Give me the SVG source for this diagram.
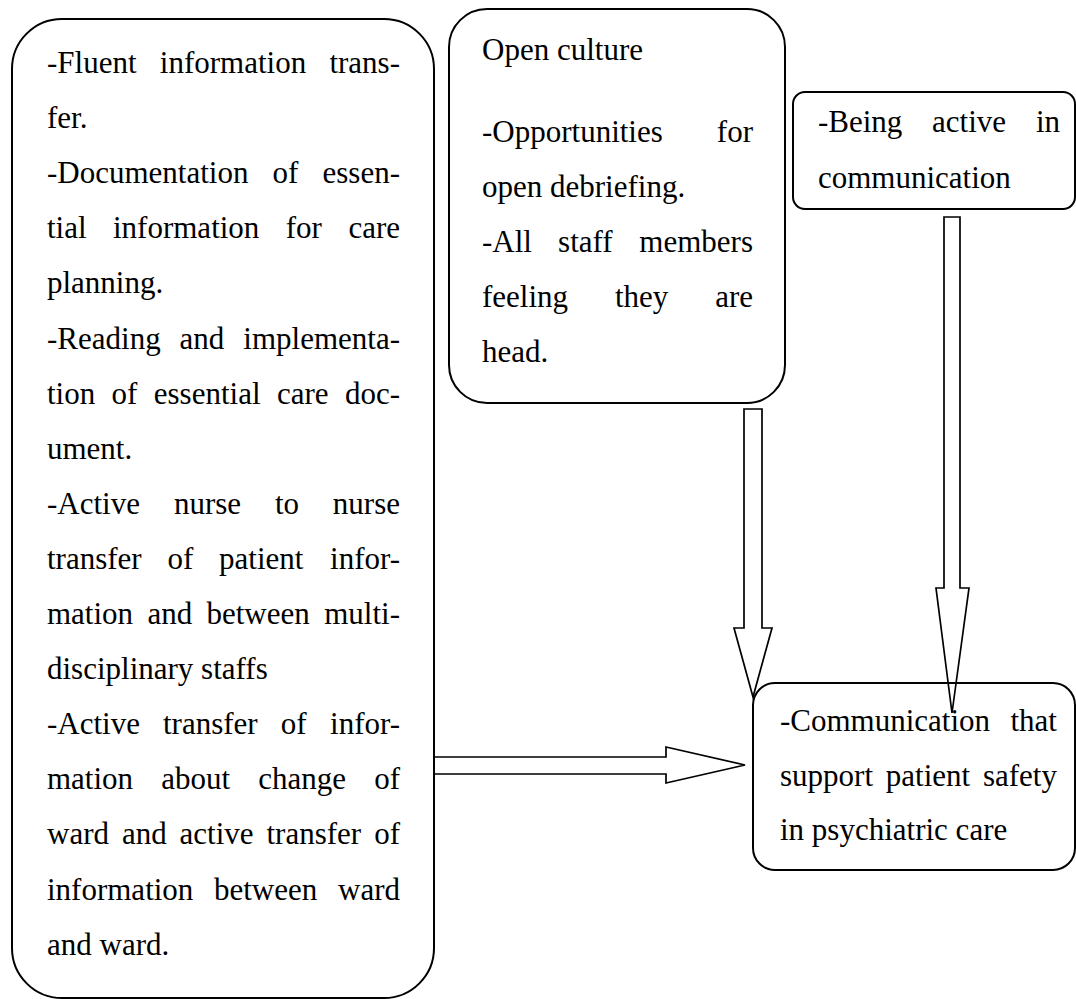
<svg xmlns="http://www.w3.org/2000/svg" width="1076" height="999" viewBox="0 0 1076 999">
<style>
.box{fill:#fff;stroke:#000;stroke-width:2}
.arr{fill:none;stroke:#000;stroke-width:1.7;stroke-linejoin:miter}
text{font-family:"Liberation Serif","Times New Roman",serif;font-size:31px;fill:#000}
.e{text-anchor:end}
</style>
<rect width="1076" height="999" fill="#fff"/>
<g id="node-left">
<rect class="box" x="12" y="19" width="422" height="979" rx="50" ry="50"/>
<text x="47" y="73">-Fluent</text><text x="159.8" y="73">information</text><text class="e" x="400" y="73">trans-</text>
<text x="47" y="128.1">fer.</text>
<text x="47" y="183.2">-Documentation</text><text x="272.6" y="183.2">of</text><text class="e" x="400" y="183.2">essen-</text>
<text x="47" y="238.3">tial</text><text x="113" y="238.3">information</text><text x="285.8" y="238.3">for</text><text class="e" x="400" y="238.3">care</text>
<text x="47" y="293.4">planning.</text>
<text x="47" y="348.5">-Reading</text><text x="179.5" y="348.5">and</text><text class="e" x="400" y="348.5">implementa-</text>
<text x="47" y="403.6">tion</text><text x="111.6" y="403.6">of</text><text x="153.8" y="403.6">essential</text><text x="277" y="403.6">care</text><text class="e" x="400" y="403.6">doc-</text>
<text x="47" y="458.7">ument.</text>
<text x="47" y="513.8">-Active</text><text x="173.9" y="513.8">nurse</text><text x="274.9" y="513.8">to</text><text class="e" x="400" y="513.8">nurse</text>
<text x="47" y="568.9">transfer</text><text x="167.5" y="568.9">of</text><text x="219.1" y="568.9">patient</text><text class="e" x="400" y="568.9">infor-</text>
<text x="47" y="624">mation</text><text x="147.4" y="624">and</text><text x="206.5" y="624">between</text><text class="e" x="400" y="624">multi-</text>
<text x="47" y="679.1">disciplinary staffs</text>
<text x="47" y="734.2">-Active</text><text x="163" y="734.2">transfer</text><text x="280.7" y="734.2">of</text><text class="e" x="400" y="734.2">infor-</text>
<text x="47" y="789.3">mation</text><text x="161.2" y="789.3">about</text><text x="258.2" y="789.3">change</text><text class="e" x="400" y="789.3">of</text>
<text x="47" y="844.4">ward</text><text x="121.9" y="844.4">and</text><text x="179.6" y="844.4">active</text><text x="266.5" y="844.4">transfer</text><text class="e" x="400" y="844.4">of</text>
<text x="47" y="899.5">information</text><text x="214" y="899.5">between</text><text class="e" x="400" y="899.5">ward</text>
<text x="47" y="954.6">and ward.</text>
</g>
<g id="node-open-culture">
<rect class="box" x="449" y="9" width="336" height="394" rx="38" ry="38"/>
<text x="482" y="60">Open culture</text>
<text x="482" y="142">-Opportunities</text><text class="e" x="753" y="142">for</text>
<text x="482" y="197">open debriefing.</text>
<text x="482" y="252">-All</text><text x="558.1" y="252">staff</text><text class="e" x="753" y="252">members</text>
<text x="482" y="307">feeling</text><text x="614.9" y="307">they</text><text class="e" x="753" y="307">are</text>
<text x="482" y="362">head.</text>
</g>
<g id="node-active">
<rect class="box" x="793" y="92" width="282" height="117" rx="12" ry="12"/>
<text x="818" y="132">-Being</text><text x="932" y="132">active</text><text class="e" x="1060" y="132">in</text>
<text x="818" y="188">communication</text>
</g>
<g id="node-outcome">
<rect class="box" x="753" y="683" width="322" height="187" rx="22" ry="22"/>
<text x="780" y="731">-Communication</text><text class="e" x="1057" y="731">that</text>
<text x="780" y="786">support</text><text x="885.8" y="786">patient</text><text class="e" x="1057" y="786">safety</text>
<text x="780" y="840">in psychiatric care</text>
</g>
<g id="connectors">
<polygon class="arr" points="434,757 666,757 666,747 745,765 666,783 666,774 434,774"/>
<polygon class="arr" points="744,409 762,409 762,628 772,628 753,697 734,628 744,628"/>
<polygon class="arr" points="944,217 960,217 960,588 969,588 952,713 936,588 944,588"/>
</g>
</svg>
